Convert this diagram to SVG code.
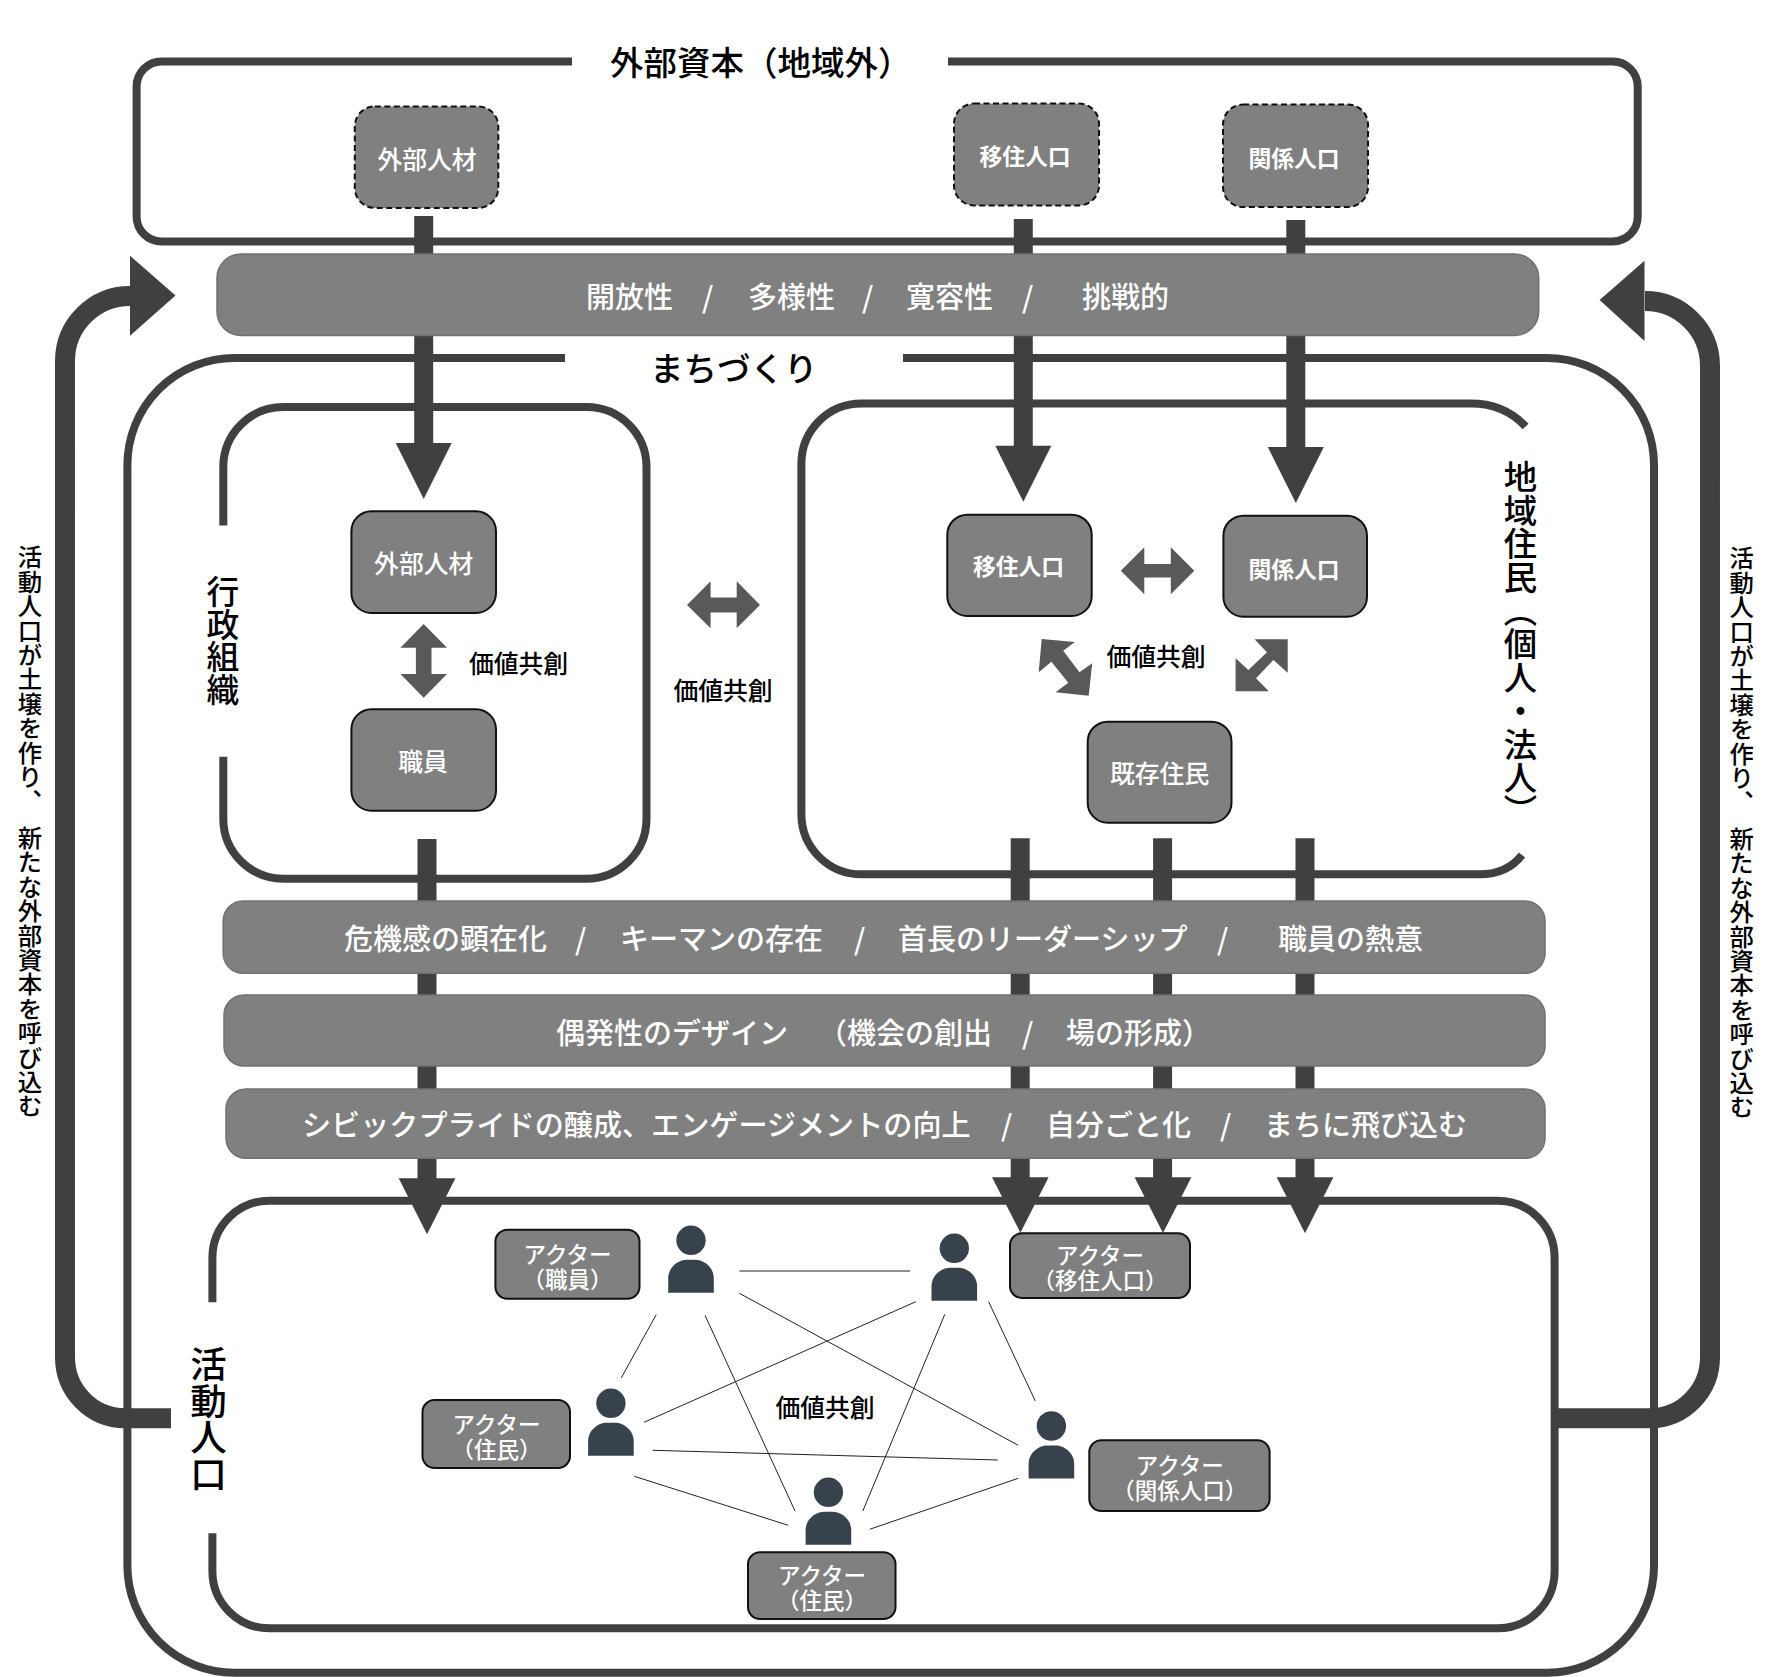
<svg xmlns="http://www.w3.org/2000/svg" xmlns:xlink="http://www.w3.org/1999/xlink" width="1772" height="1677" viewBox="0 0 1772 1677">
<style>
text{font-family:"Noto Sans CJK JP","Noto Sans",sans-serif}
.frame{fill:none;stroke:#404040;stroke-width:8}
.shaft{fill:none;stroke:#404040;stroke-width:19}
.head{fill:#404040}
.sw{fill:none;stroke:#404040;stroke-width:20}
.dbl{fill:#595959}
.link{stroke:#222;stroke-width:1;fill:none}
.node{fill:#808080;stroke:#111;stroke-width:2}
.dash{fill:#808080;stroke:#111;stroke-width:2;stroke-dasharray:6 3.5}
.band{fill:#808080;stroke:#707070;stroke-width:1.5}
.nt{fill:#fff;font-size:24.8px;font-weight:500;text-anchor:middle}
.ns{fill:#fff;font-size:22.8px;font-weight:700;text-anchor:middle}
.at{fill:#fff;font-size:22.5px;font-weight:500;text-anchor:middle}
.bt{fill:#fff;font-size:29px;font-weight:500}
.lab{fill:#000;font-size:24.8px;font-weight:500;text-anchor:middle}
.ttl{fill:#000;font-size:33.5px;font-weight:500}
.vt{fill:#000;font-size:33.4px;font-weight:500;writing-mode:vertical-rl}
.vs{fill:#000;font-size:24.4px;font-weight:500;writing-mode:vertical-rl}
.person{fill:#37424d}
</style>
<defs>
<g id="person">
<circle cx="0" cy="0" r="14.7"/>
<path d="M-22.8 52.5V38C-22.8 27-13 19.5-4 19.5H4C13 19.5 22.8 27 22.8 38V52.5Z"/>
</g>
</defs>

<g id="frames">
<path id="frame-external" class="frame" d="M572 61.4H162A25 25 0 0 0 136.6 86.4V216.4A25 25 0 0 0 161.6 241.4H1612.7A25 25 0 0 0 1637.7 216.4V86.4A25 25 0 0 0 1612.7 61.4H948"/>
<path id="frame-town" class="frame" d="M565 358H234.4A107 107 0 0 0 127.4 465V1565.7A107 107 0 0 0 234.4 1672.7H1547A107 107 0 0 0 1654 1565.7V465A107 107 0 0 0 1547 358H903"/>
<path id="frame-admin" class="frame" d="M223.3 525.5V467A60 60 0 0 1 283.3 407H586.5A60 60 0 0 1 646.5 467V818.7A60 60 0 0 1 586.5 878.7H283.3A60 60 0 0 1 223.3 818.7V756.7"/>
<path id="frame-resident" class="frame" d="M1525.6 426.5Q1504 403.6 1471 403.6H861.4A60 60 0 0 0 801.4 463.6V814.3A60 60 0 0 0 861.4 874.3H1480Q1507 874.3 1522 855"/>
<path id="frame-active" class="frame" d="M212.4 1302.3V1257.7A57 57 0 0 1 269.4 1200.7H1497.6A57 57 0 0 1 1554.6 1257.7V1571.3A57 57 0 0 1 1497.6 1628.3H269.4A57 57 0 0 1 212.4 1571.3V1533.3"/>
</g>

<g id="connectors">
<path class="shaft" d="M423.7 216V445"/>
<path class="shaft" d="M1023.3 219V448"/>
<path class="shaft" d="M1295.8 220V449"/>
<path class="head" d="M395.7 443H451.7L423.7 499Z"/>
<path class="head" d="M995.3 445.7H1051.3L1023.3 501.8Z"/>
<path class="head" d="M1267.8 447H1323.8L1295.8 503Z"/>
<path class="shaft" d="M427 839V1180"/>
<path class="shaft" d="M1020.2 838.3V1180"/>
<path class="shaft" d="M1162.6 838.3V1180"/>
<path class="shaft" d="M1305 838.3V1180"/>
<path class="head" d="M398.7 1178.3H455.4L427 1234.3Z"/>
<path class="head" d="M992 1177.3H1048.6L1020.4 1232.7Z"/>
<path class="head" d="M1134.6 1177.3H1191.4L1163 1232.9Z"/>
<path class="head" d="M1276.7 1177.3H1333.4L1305 1233.3Z"/>
<path class="sw" d="M171 1418.3H125A60 61 0 0 1 65 1357V361A65 65 0 0 1 130 296"/>
<path class="head" d="M130 255.7L175.5 295.5L130 335.7Z"/>
<path class="sw" d="M1557 1418.3H1650A60 61 0 0 0 1710 1357V366A65 65 0 0 0 1645 301"/>
<path class="head" d="M1644.5 260.7L1599.6 300L1644.5 341Z"/>
<path class="dbl" d="M423.7 624L447 647.7H431.5V674H447L423.7 697.7L400.4 674H415.9V647.7H400.4Z"/>
<path class="dbl" d="M687 605L710.6 581.3V597.5H736.7V581.3L760 605L736.7 628.3V612.5H710.6V628.3Z"/>
<path class="dbl" d="M1120.8 570.8L1144.3 547.3V564H1170.8V547.3L1194.3 570.8L1170.8 594.3V577.5H1144.3V594.3Z"/>
<path class="dbl" d="M1041.7 639L1074.9 642L1063.2 650.7L1079.5 672.3L1092.2 663.3L1088.7 695.7L1055.5 692.3L1068.3 682.7L1051.4 661.7L1038.7 672.3Z"/>
<path class="dbl" d="M1287.7 639.3V672.7L1273.4 660L1256 678.3L1268.8 691.3H1235.6V658.3L1248.4 670L1267 652.3L1254.5 639.3Z"/>
<g id="actor-links">
<line class="link" x1="739.4" y1="1271" x2="910" y2="1271"/>
<line class="link" x1="739.4" y1="1293.3" x2="1018.2" y2="1445.3"/>
<line class="link" x1="656.2" y1="1314.7" x2="621.2" y2="1378"/>
<line class="link" x1="705" y1="1315.3" x2="795" y2="1511"/>
<line class="link" x1="644" y1="1422.3" x2="915.8" y2="1301.7"/>
<line class="link" x1="652.7" y1="1450.3" x2="997.7" y2="1460"/>
<line class="link" x1="634.3" y1="1476.3" x2="788.2" y2="1525.3"/>
<line class="link" x1="862.8" y1="1511" x2="944.8" y2="1314.3"/>
<line class="link" x1="869.7" y1="1529.3" x2="1018.2" y2="1478.3"/>
<line class="link" x1="988.6" y1="1301.7" x2="1035.3" y2="1401"/>
</g>
</g>

<g id="title-external"><text class="ttl" x="610" y="75">外部資本（地域外）</text></g>
<g id="title-town"><text class="ttl" x="650" y="381">まちづくり</text></g>
<g id="title-admin"><text class="vt" style="font-size:32.8px" x="222.9" y="575">行政組織</text></g>
<g id="title-resident"><text class="vt" x="1520.5" y="460">地域住民（個人・法人）</text></g>
<g id="title-active"><text class="vt" style="font-size:36.5px" x="208.4" y="1346">活動人口</text></g>
<g id="note-left"><text class="vs" x="30" y="545">活動人口が土壌を作り、　新たな外部資本を呼び込む</text></g>
<g id="note-right"><text class="vs" x="1741.6" y="546">活動人口が土壌を作り、　新たな外部資本を呼び込む</text></g>

<g id="band-1"><rect class="band" x="217" y="254" width="1321.7" height="81.4" rx="24"/>
<text class="bt" y="307.5"><tspan x="586">開放性</tspan><tspan x="702">/</tspan><tspan x="748">多様性</tspan><tspan x="862">/</tspan><tspan x="906">寛容性</tspan><tspan x="1022">/</tspan><tspan x="1082">挑戦的</tspan></text></g>
<g id="band-2"><rect class="band" x="223.2" y="901" width="1321.8" height="72.3" rx="20"/>
<text class="bt" y="950"><tspan x="344">危機感の顕在化</tspan><tspan x="575">/</tspan><tspan x="620">キーマンの存在</tspan><tspan x="854">/</tspan><tspan x="898">首長のリーダーシップ</tspan><tspan x="1217">/</tspan><tspan x="1278">職員の熱意</tspan></text></g>
<g id="band-3"><rect class="band" x="224" y="995" width="1321" height="71" rx="20"/>
<text class="bt" y="1044"><tspan x="556">偶発性のデザイン</tspan><tspan x="818">（機会の創出</tspan><tspan x="1022">/</tspan><tspan x="1066">場の形成）</tspan></text></g>
<g id="band-4"><rect class="band" x="226" y="1089" width="1319" height="69.3" rx="20"/>
<text class="bt" y="1136"><tspan x="302" style="font-size:29.1px">シビックプライドの醸成、エンゲージメントの向上</tspan><tspan x="1001">/</tspan><tspan x="1046">自分ごと化</tspan><tspan x="1220">/</tspan><tspan x="1264">まちに飛び込む</tspan></text></g>

<g id="ext-talent"><rect class="dash" x="354.8" y="106.4" width="143.5" height="101.5" rx="20"/><text class="nt" x="427" y="169">外部人材</text></g>
<g id="ext-migrant"><rect class="dash" x="954" y="103.6" width="145" height="101.8" rx="20"/><text class="ns" x="1025" y="164.5">移住人口</text></g>
<g id="ext-related"><rect class="dash" x="1223" y="104.6" width="145" height="102.4" rx="20"/><text class="ns" x="1294" y="166.5">関係人口</text></g>

<g id="admin-talent"><rect class="node" x="351.4" y="511.3" width="144.6" height="101.7" rx="20"/><text class="nt" x="423.7" y="573">外部人材</text></g>
<g id="admin-staff"><rect class="node" x="351.4" y="709.3" width="144.6" height="101.4" rx="20"/><text class="nt" x="423" y="770.7">職員</text></g>
<g id="res-migrant"><rect class="node" x="947.3" y="514.7" width="144.4" height="101.3" rx="20"/><text class="ns" x="1018.5" y="575">移住人口</text></g>
<g id="res-related"><rect class="node" x="1223.4" y="515.7" width="143.6" height="101" rx="20"/><text class="ns" x="1294" y="577.5">関係人口</text></g>
<g id="res-existing"><rect class="node" x="1087.7" y="721.7" width="143.8" height="101" rx="20"/><text class="nt" x="1159.6" y="783">既存住民</text></g>

<g id="labels">
<text class="lab" x="518.5" y="673">価値共創</text>
<text class="lab" x="723" y="699.7">価値共創</text>
<text class="lab" x="1156" y="665.7">価値共創</text>
<text class="lab" x="825" y="1417.3">価値共創</text>
</g>

<g id="person-staff" class="person"><use href="#person" x="691" y="1240.3"/></g>
<g id="person-res1" class="person"><use href="#person" x="610.9" y="1403.3"/></g>
<g id="person-res2" class="person"><use href="#person" x="828.4" y="1492.3"/></g>
<g id="person-migrant" class="person"><use href="#person" x="954.3" y="1248.3"/></g>
<g id="person-related" class="person"><use href="#person" x="1051.4" y="1426"/></g>

<g id="actor-staff"><rect class="node" x="495.4" y="1229.7" width="144.1" height="69" rx="12"/><text class="at"><tspan x="567.5" y="1262.5">アクター</tspan><tspan x="567.5" y="1287.5">（職員）</tspan></text></g>
<g id="actor-res1"><rect class="node" x="422.5" y="1400" width="147.5" height="68" rx="12"/><text class="at"><tspan x="496.6" y="1432.5">アクター</tspan><tspan x="496.6" y="1457.5">（住民）</tspan></text></g>
<g id="actor-res2"><rect class="node" x="748" y="1552.3" width="147.5" height="66.7" rx="12"/><text class="at"><tspan x="822" y="1583.5">アクター</tspan><tspan x="822" y="1608.5">（住民）</tspan></text></g>
<g id="actor-migrant"><rect class="node" x="1010" y="1233.3" width="180" height="64.7" rx="12"/><text class="at"><tspan x="1100" y="1263.8">アクター</tspan><tspan x="1100" y="1288.8">（移住人口）</tspan></text></g>
<g id="actor-related"><rect class="node" x="1089.3" y="1440.3" width="180.3" height="70.7" rx="12"/><text class="at"><tspan x="1179.8" y="1473.5">アクター</tspan><tspan x="1179.8" y="1499">（関係人口）</tspan></text></g>
</svg>
